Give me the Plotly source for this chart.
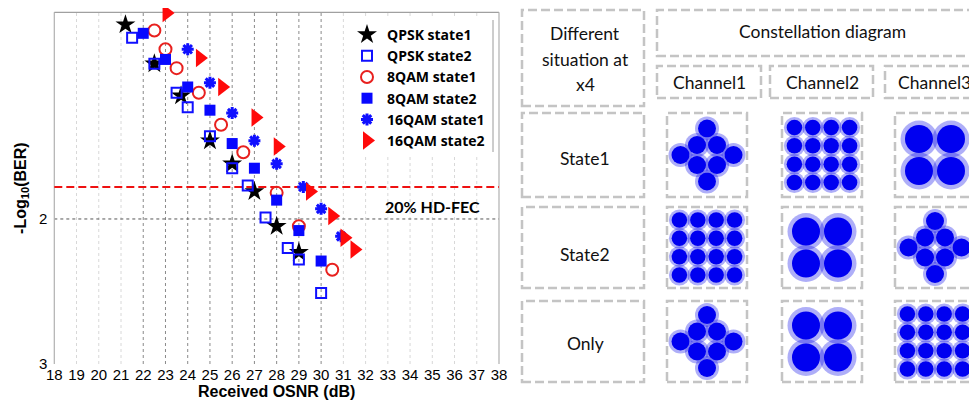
import plotly.graph_objects as go

# Target picture size; the page adds an 8 px body margin, so the figure is drawn 8 px smaller
W, H = 977, 404
OFF = 8
FW, FH = W - OFF, H - OFF

# ---------------- data (left chart) ----------------
qpsk_s1_osnr = [21.2, 22.5, 23.7, 25.0, 26.0, 27.0, 28.0, 29.0]
qpsk_s1_ber = [0.66, 0.93, 1.15, 1.46, 1.62, 1.81, 2.05, 2.23]

qpsk_s2_osnr = [21.5, 22.5, 23.5, 24.0, 25.0, 26.0, 26.7, 27.5, 28.5, 29.0, 30.0]
qpsk_s2_ber = [0.75, 0.93, 1.13, 1.23, 1.43, 1.65, 1.77, 1.99, 2.20, 2.28, 2.51]

qam8_s1_osnr = [22.5, 23.0, 23.5, 24.5, 25.5, 26.5, 28.0, 29.0, 30.5]
qam8_s1_ber = [0.70, 0.83, 0.96, 1.13, 1.35, 1.54, 1.82, 2.05, 2.35]

qam8_s2_osnr = [22.0, 23.0, 24.0, 25.0, 26.0, 27.0, 28.0, 29.0, 30.0]
qam8_s2_ber = [0.72, 0.90, 1.09, 1.25, 1.48, 1.65, 1.87, 2.08, 2.29]

qam16_s1_osnr = [24.0, 25.0, 26.0, 27.0, 28.0, 29.2, 30.0, 30.9]
qam16_s1_ber = [0.83, 1.06, 1.27, 1.46, 1.62, 1.78, 1.93, 2.12]

qam16_s2_osnr = [23.05, 24.55, 25.55, 27.05, 28.05, 29.5, 30.5, 31.05, 31.5]
qam16_s2_ber = [0.58, 0.89, 1.09, 1.30, 1.50, 1.81, 1.98, 2.13, 2.21]

hd_fec_level = 1.78
hd_fec_label = "20% HD-FEC"
x_ticks = list(range(18, 39))
y_ticks = [2, 3]

# ---------------- data (constellation table) ----------------
qpsk_i = [-1, 1, -1, 1]
qpsk_q = [1, 1, -1, -1]
qam16_i = [-3, -1, 1, 3] * 4
qam16_q = [3] * 4 + [1] * 4 + [-1] * 4 + [-3] * 4
qam8_i = [0, -2.65, 2.65, 0, -1, 1, -1, 1]
qam8_q = [2.65, 0, 0, -2.65, 1, 1, -1, -1]

row_labels = ["State1", "State2", "Only"]
channel_labels = ["Channel1", "Channel2", "Channel3"]
cell_formats = [["8QAM", "16QAM", "QPSK"],
                ["16QAM", "QPSK", "8QAM"],
                ["8QAM", "QPSK", "16QAM"]]

# ---------------- helpers (page pixels -> paper fraction) ----------------
def px_x(p):
    return (p - OFF) / FW

def px_y(p):
    return 1 - (p - OFF) / FH

fig = go.Figure()

# ---------------- left chart ----------------
series = [
    ("QPSK state1", qpsk_s1_osnr, qpsk_s1_ber,
     dict(symbol="star", size=15, color="black", line=dict(width=0))),
    ("QPSK state2", qpsk_s2_osnr, qpsk_s2_ber,
     dict(symbol="square-open", size=10, color="#1010ff", line=dict(width=2, color="#1010ff"))),
    ("8QAM state1", qam8_s1_osnr, qam8_s1_ber,
     dict(symbol="circle-open", size=12, color="#e8201e", line=dict(width=2, color="#e8201e"))),
    ("8QAM state2", qam8_s2_osnr, qam8_s2_ber,
     dict(symbol="square", size=11, color="#0808ff", line=dict(width=0))),
    ("16QAM state1", qam16_s1_osnr, qam16_s1_ber,
     dict(symbol="asterisk-open", size=10, color="#1010ff", line=dict(width=3, color="#1010ff"))),
    ("16QAM state2", qam16_s2_osnr, qam16_s2_ber,
     dict(symbol="triangle-right", size=16, color="#ff0a0a", line=dict(width=0))),
]
for name, xs, ys, mk in series:
    fig.add_trace(go.Scatter(x=xs, y=ys, mode="markers", name="<b>" + name + "</b>", marker=mk,
                             cliponaxis=False, xaxis="x", yaxis="y"))

x_left, x_right = 54.3, 499.0
y_top, y_bot = 12.3, 364.0

axis_font = dict(family="Liberation Sans, Arial", size=15, color="black")
fig.update_layout(
    xaxis=dict(domain=[px_x(x_left), px_x(x_right)], range=[18, 38], tickvals=x_ticks,
               ticktext=[str(t) for t in x_ticks], showgrid=False, zeroline=False,
               ticks="", tickfont=axis_font, automargin=False,
               title=dict(text="<b>Received OSNR (dB)</b>", standoff=0,
                          font=dict(family="Liberation Sans, Arial", size=16, color="black")),
               anchor="y"),
    yaxis=dict(domain=[px_y(y_bot), px_y(y_top)], range=[3, 0.575], tickvals=y_ticks,
               ticktext=[str(t) for t in y_ticks], showgrid=False, zeroline=False,
               ticks="", tickfont=axis_font, automargin=False, ticklabelstandoff=6,
               title=dict(text="<b>-Log<sub>10</sub>(BER)</b>", standoff=8,
                          font=dict(family="Liberation Sans, Arial", size=16, color="black")),
               anchor="x"),
)

shapes = []
# vertical dotted grid lines
for t in x_ticks[1:-1]:
    dark = 22 <= t <= 30
    shapes.append(dict(type="line", xref="x", yref="y domain", x0=t, x1=t, y0=0, y1=1,
                       line=dict(color="#8a8a8a" if dark else "#d8d8d8", width=1, dash="dot"),
                       layer="below"))
# horizontal dotted line at 2
shapes.append(dict(type="line", xref="x domain", yref="y", x0=0, x1=1, y0=2, y1=2,
                   line=dict(color="#555555", width=1, dash="dot"), layer="below"))
# frame: left, top, right
shapes.append(dict(type="line", xref="x domain", yref="y domain", x0=0, x1=0, y0=0, y1=1,
                   line=dict(color="#b0b0b0", width=1.2), layer="below"))
shapes.append(dict(type="line", xref="x domain", yref="y domain", x0=0, x1=1, y0=1, y1=1,
                   line=dict(color="#a0a0a0", width=1.2), layer="below"))
shapes.append(dict(type="line", xref="x domain", yref="y domain", x0=1, x1=1, y0=0, y1=1,
                   line=dict(color="#b0b0b0", width=1.2), layer="below"))
# HD-FEC threshold
shapes.append(dict(type="line", xref="x domain", yref="y", x0=0, x1=1,
                   y0=hd_fec_level, y1=hd_fec_level,
                   line=dict(color="#ee1111", width=2, dash="8px,4px"), layer="below"))
# legend box right edge
shapes.append(dict(type="line", xref="paper", yref="paper", x0=px_x(493), x1=px_x(493),
                   y0=px_y(152), y1=px_y(20), line=dict(color="#9a9a9a", width=1), layer="above"))

annotations = [
    dict(text="<b>" + hd_fec_label + "</b>", x=px_x(432), y=px_y(207), xref="paper", yref="paper",
         showarrow=False, font=dict(family="Lato, Carlito, sans-serif", size=16, color="black"),
         xanchor="center", yanchor="middle"),
]

# ---------------- right table ----------------
box_line = dict(color="#c4c4c4", width=2.5, dash="9px,4px")
lab_font = dict(family="Lato, Carlito, sans-serif", size=17.5, color="#111111")

def add_box(x0, y0, x1, y1):
    shapes.append(dict(type="rect", xref="paper", yref="paper",
                       x0=px_x(x0), x1=px_x(x1), y0=px_y(y1), y1=px_y(y0),
                       line=box_line, fillcolor="rgba(0,0,0,0)"))

def add_text(t, cx, cy):
    annotations.append(dict(text=t, x=px_x(cx), y=px_y(cy), xref="paper", yref="paper",
                            showarrow=False, font=lab_font, xanchor="center", yanchor="middle"))

add_box(522, 10, 644, 106)
add_text("Different", 585, 34)
add_text("situation at", 585, 59)
add_text("x4", 585, 84)

add_box(657, 10, 995, 56)
add_text("Constellation diagram", 822, 32)

chan_boxes = [(657, 761), (770, 873), (885, 990)]
chan_centers = [709, 822, 934]
for (a, b), c, lab in zip(chan_boxes, chan_centers, channel_labels):
    add_box(a, 66, b, 98)
    add_text(lab, c, 82)

row_y = [(113, 197), (207, 288), (301, 382)]
col_x = [(667, 747), (782, 862), (895, 975)]
row_text_y = [158, 254, 343]

for (y0, y1), lab, ty in zip(row_y, row_labels, row_text_y):
    add_box(522, y0, 644, y1)
    add_text(lab, 585, ty)

fmt_points = {"QPSK": (qpsk_i, qpsk_q), "16QAM": (qam16_i, qam16_q), "8QAM": (qam8_i, qam8_q)}
fmt_style = {"QPSK": dict(scale=16.0, core=28, halo=37),
             "16QAM": dict(scale=9.2, core=15.5, halo=21),
             "8QAM": dict(scale=10.0, core=18, halo=24)}

ax_n = 2
for r, (y0, y1) in enumerate(row_y):
    for c, (x0, x1) in enumerate(col_x):
        add_box(x0, y0, x1, y1)
        fmt = cell_formats[r][c]
        pi, pq = fmt_points[fmt]
        st = fmt_style[fmt]
        xa, ya = f"x{ax_n}", f"y{ax_n}"
        fig.add_trace(go.Scatter(x=pi, y=pq, mode="markers", showlegend=False, hoverinfo="skip",
                                 marker=dict(size=st["halo"], color="rgba(10,10,235,0.33)",
                                             line=dict(width=0)),
                                 xaxis=xa, yaxis=ya, cliponaxis=False))
        fig.add_trace(go.Scatter(x=pi, y=pq, mode="markers", showlegend=False, hoverinfo="skip",
                                 marker=dict(size=st["core"], color="#0000f0", line=dict(width=0)),
                                 xaxis=xa, yaxis=ya, cliponaxis=False))
        hw = (x1 - x0) / 2 / st["scale"]
        hh = (y1 - y0) / 2 / st["scale"]
        fig.update_layout({
            f"xaxis{ax_n}": dict(domain=[px_x(x0), px_x(x1)], range=[-hw, hw], visible=False,
                                 anchor=ya, fixedrange=True, automargin=False),
            f"yaxis{ax_n}": dict(domain=[px_y(y1), px_y(y0)], range=[-hh, hh], visible=False,
                                 anchor=xa, fixedrange=True, automargin=False),
        })
        ax_n += 1

fig.update_layout(
    width=FW, height=FH,
    margin=dict(l=0, r=0, t=0, b=0, autoexpand=False),
    paper_bgcolor="white", plot_bgcolor="white",
    shapes=shapes, annotations=annotations,
    showlegend=True,
    legend=dict(x=px_x(347), y=px_y(19), xanchor="left", yanchor="top",
                bgcolor="white", borderwidth=0, tracegroupgap=0, itemwidth=30,
                font=dict(family="Open Sans, sans-serif", size=14, color="black"),
                itemsizing="trace"),
)

fig.write_html("out.html")
